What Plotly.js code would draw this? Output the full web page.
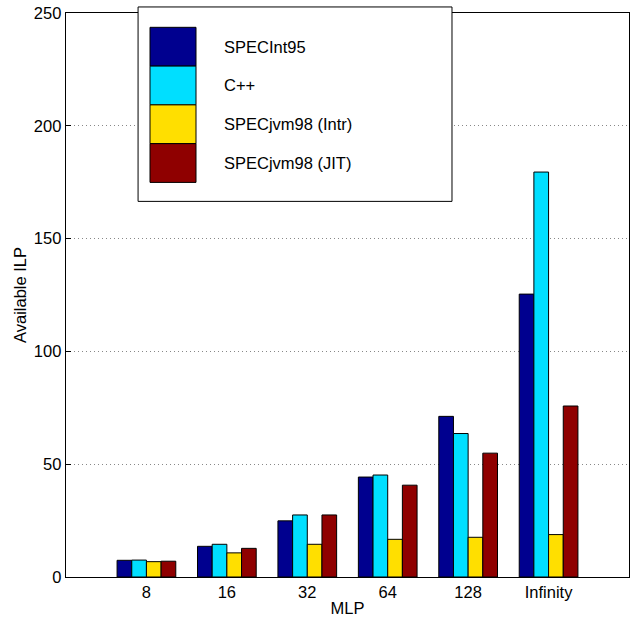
<!DOCTYPE html>
<html>
<head>
<meta charset="utf-8">
<script src="https://cdn.plot.ly/plotly-3.0.1.min.js"></script>
<style>html,body{margin:0;padding:0;background:#fff;}#chart{width:631px;height:620px;}</style>
</head>
<body>
<div id="chart"></div>
<script>
const categories = ["8", "16", "32", "64", "128", "Infinity"];
const seriesNames = ["SPECInt95", "C++", "SPECjvm98 (Intr)", "SPECjvm98 (JIT)"];
const specInt95 = [7.4, 13.6, 24.9, 44.3, 71.2, 125.4];
const cpp = [7.5, 14.5, 27.5, 45.2, 63.6, 179.5];
const jvmIntr = [6.8, 10.7, 14.5, 16.7, 17.6, 18.8];
const jvmJit = [7.0, 12.7, 27.5, 40.7, 54.9, 75.8];
const colors = ["#00008F", "#00DFFF", "#FFDF00", "#8F0000"];
const yTicks = [0, 50, 100, 150, 200, 250];

const seriesValues = [specInt95, cpp, jvmIntr, jvmJit];
const font = "Liberation Sans, Arial, sans-serif";

const traces = seriesValues.map((vals, i) => ({
  type: "bar",
  x: categories,
  y: vals,
  name: seriesNames[i],
  marker: { color: colors[i], line: { color: "#000", width: 1 } },
  showlegend: false,
  hoverinfo: "none"
}));

// legend box drawn as shapes in paper coordinates
const shapes = [{
  type: "rect", xref: "paper", yref: "paper",
  x0: 0.128, x1: 0.6856, y0: 0.666, y1: 1.0107,
  line: { color: "#000", width: 1 }, fillcolor: "#fff", layer: "above"
}];
const annotations = [];
const entryTops = [28.3, 67.0, 105.7, 144.4];
const entryH = 38.7;
seriesNames.forEach((name, i) => {
  const top = entryTops[i];
  shapes.push({
    type: "rect", xref: "paper", yref: "paper",
    x0: (150 - 66) / 563, x1: (196 - 66) / 563,
    y0: (577 - (top + entryH)) / 563, y1: (577 - top) / 563,
    line: { color: "#000", width: 1 }, fillcolor: colors[i], layer: "above"
  });
  annotations.push({
    xref: "paper", yref: "paper",
    x: (222 - 66) / 563, y: (577 - (top + entryH / 2)) / 563,
    xanchor: "left", yanchor: "middle",
    text: name, showarrow: false,
    font: { family: font, size: 16.5, color: "#000" }
  });
});

const layout = {
  width: 631, height: 620,
  margin: { l: 66, r: 2, t: 13, b: 43, pad: 0 },
  paper_bgcolor: "#fff", plot_bgcolor: "#fff",
  barmode: "group", bargap: 0.27, bargroupgap: 0,
  font: { family: font, size: 16.5, color: "#000" },
  xaxis: {
    type: "category", range: [-1, 6],
    showline: true, mirror: true, linecolor: "#000", linewidth: 1.3,
    ticks: "", showgrid: false, zeroline: false,
    tickfont: { family: font, size: 16.5, color: "#000" },
    title: { text: "MLP", font: { family: font, size: 16.5, color: "#000" }, standoff: 2 }
  },
  yaxis: {
    range: [0, 250], tickvals: yTicks, ticktext: yTicks.map(String),
    showline: true, mirror: true, linecolor: "#000", linewidth: 1.3,
    ticks: "inside", ticklen: 5, tickcolor: "#000",
    showgrid: true, gridcolor: "#888", griddash: "1px,3px", gridwidth: 1,
    zeroline: false,
    tickfont: { family: font, size: 16.5, color: "#000" },
    title: { text: "Available ILP", font: { family: font, size: 16.5, color: "#000" }, standoff: 3 }
  },
  shapes: shapes,
  annotations: annotations
};

Plotly.newPlot("chart", traces, layout, { staticPlot: true, displayModeBar: false });
</script>
</body>
</html>
